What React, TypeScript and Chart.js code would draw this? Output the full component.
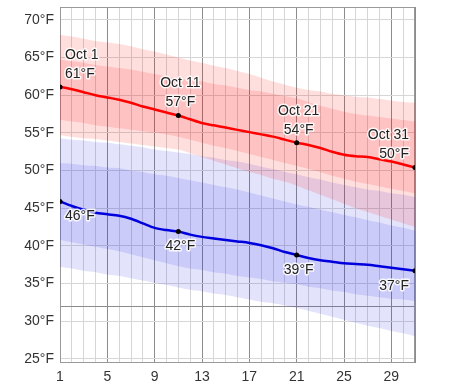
import React, { useEffect, useRef } from 'react';
import { Chart, registerables } from 'chart.js';

Chart.register(...registerables);

// Days of October
const days = [1, 2, 3, 4, 5, 6, 7, 8, 9, 10, 11, 12, 13, 14, 15, 16, 17, 18, 19, 20, 21, 22, 23, 24, 25, 26, 27, 28, 29, 30, 31];
const monthName = 'Oct';

// Average daily high / low (°F)
const highAvg = [61.1, 60.8, 60.4, 60.0, 59.7, 59.4, 59.0, 58.5, 58.1, 57.7, 57.3, 56.8, 56.3, 56.0, 55.7, 55.4, 55.1, 54.8, 54.5, 54.1, 53.7, 53.4, 53.0, 52.5, 52.1, 51.9, 51.8, 51.5, 51.2, 50.8, 50.4];
const lowAvg = [45.9, 45.3, 44.8, 44.4, 44.2, 44.0, 43.6, 43.0, 42.4, 42.1, 41.9, 41.5, 41.2, 41.0, 40.8, 40.6, 40.4, 40.1, 39.7, 39.2, 38.8, 38.4, 38.1, 37.9, 37.7, 37.6, 37.5, 37.3, 37.1, 36.9, 36.7];

// High percentile bands
const high90 = [68.0, 67.8, 67.5, 67.2, 67.0, 66.8, 66.5, 66.1, 65.8, 65.4, 65.0, 64.6, 64.3, 63.9, 63.6, 63.2, 62.8, 62.3, 61.8, 61.4, 61.0, 60.7, 60.5, 60.2, 60.0, 59.8, 59.7, 59.5, 59.3, 59.1, 59.0];
const high75 = [64.7, 64.5, 64.3, 64.0, 63.8, 63.6, 63.4, 63.1, 62.8, 62.5, 62.2, 62.0, 61.8, 61.5, 61.3, 61.0, 60.7, 60.5, 60.2, 59.9, 59.6, 59.1, 58.6, 58.2, 57.8, 57.5, 57.3, 57.1, 56.9, 56.7, 56.5];
const high25 = [56.7, 56.5, 56.3, 56.0, 55.8, 55.6, 55.4, 55.2, 55.0, 54.8, 54.5, 54.1, 53.7, 53.3, 53.0, 52.6, 52.2, 51.8, 51.4, 51.0, 50.6, 50.2, 49.8, 49.3, 48.9, 48.5, 48.2, 47.9, 47.6, 47.3, 47.0];
const high10 = [54.7, 54.5, 54.3, 54.2, 54.0, 53.8, 53.6, 53.4, 53.2, 53.0, 52.8, 52.3, 51.8, 51.3, 50.8, 50.3, 49.8, 49.4, 48.9, 48.5, 48.0, 47.4, 46.8, 46.2, 45.6, 45.0, 44.5, 44.0, 43.5, 43.0, 42.5];

// Low percentile bands
const low90 = [54.3, 54.1, 54.0, 53.8, 53.7, 53.5, 53.3, 53.1, 52.8, 52.6, 52.4, 52.2, 51.9, 51.7, 51.4, 51.2, 50.9, 50.5, 50.2, 49.8, 49.5, 49.1, 48.8, 48.4, 48.1, 47.8, 47.5, 47.3, 47.0, 46.8, 46.5];
const low75 = [51.0, 50.9, 50.7, 50.6, 50.4, 50.3, 50.0, 49.8, 49.5, 49.3, 49.0, 48.7, 48.4, 48.1, 47.8, 47.5, 47.1, 46.7, 46.3, 45.9, 45.5, 45.2, 44.8, 44.5, 44.1, 43.8, 43.4, 43.1, 42.7, 42.4, 42.0];
const low25 = [40.8, 40.5, 40.2, 39.9, 39.6, 39.3, 38.9, 38.5, 38.1, 37.7, 37.3, 37.0, 36.8, 36.5, 36.3, 36.0, 35.8, 35.6, 35.3, 35.1, 34.9, 34.6, 34.4, 34.1, 33.9, 33.6, 33.4, 33.2, 33.0, 32.9, 32.7];
const low10 = [37.2, 37.0, 36.7, 36.5, 36.2, 36.0, 35.7, 35.4, 35.1, 34.8, 34.5, 34.2, 34.0, 33.7, 33.5, 33.2, 32.9, 32.6, 32.4, 32.1, 31.8, 31.4, 31.0, 30.6, 30.2, 29.8, 29.4, 29.1, 28.7, 28.4, 28.0];

// Axis ticks
const xLabelDays = [1, 5, 9, 13, 17, 21, 25, 29];
const yTickValues = [25, 30, 35, 40, 45, 50, 55, 60, 65, 70];
const freezingLine = 32;
const yMin = 24.6;
const yMax = 71.7;

// Annotated days
const labelDays = [1, 11, 21, 31];

const FONT = '"Liberation Sans", Arial, sans-serif';

const toXY = (arr: number[]) => days.map((d, i) => ({ x: d, y: arr[i] }));

const band = (arr: number[], fill: number | false, color: string) => ({
  data: toXY(arr),
  borderWidth: 0,
  pointRadius: 0,
  fill,
  backgroundColor: color,
  borderColor: 'rgba(0,0,0,0)',
  order: 2,
});

const markerRadius = days.map((d) => (labelDays.includes(d) ? 2.5 : 0));

const labelPlugin = {
  id: 'pointLabels',
  afterDatasetsDraw(chart: any) {
    const { ctx, scales } = chart;
    const x = scales.x;
    const y = scales.y;
    ctx.save();
    ctx.font = `14px ${FONT}`;
    ctx.textBaseline = 'middle';
    ctx.lineJoin = 'round';
    const draw = (t: string, px: number, py: number, align: CanvasTextAlign) => {
      ctx.textAlign = align;
      ctx.strokeStyle = 'rgba(255,255,255,0.85)';
      ctx.lineWidth = 3;
      ctx.strokeText(t, px, py);
      ctx.fillStyle = '#222';
      ctx.fillText(t, px, py);
    };
    labelDays.forEach((d, k) => {
      const i = days.indexOf(d);
      const px = x.getPixelForValue(d);
      const hy = y.getPixelForValue(highAvg[i]);
      const ly = y.getPixelForValue(lowAvg[i]);
      const last = k === labelDays.length - 1;
      const align: CanvasTextAlign = k === 0 ? 'left' : last ? 'right' : 'center';
      const dx = k === 0 ? 5 : last ? -6 : 2;
      draw(`${monthName} ${d}`, px + dx, hy - 32, align);
      draw(`${Math.round(highAvg[i])}°F`, px + dx, hy - 13, align);
      draw(`${Math.round(lowAvg[i])}°F`, px + dx, ly + 15, align);
    });
    ctx.restore();
  },
};

const framePlugin = {
  id: 'frame',
  beforeDatasetsDraw(chart: any) {
    const { ctx, chartArea } = chart;
    ctx.save();
    ctx.strokeStyle = '#999';
    ctx.lineWidth = 1;
    ctx.strokeRect(Math.round(chartArea.left) + 0.5, Math.round(chartArea.top) + 0.5, Math.round(chartArea.right - chartArea.left) - 1, Math.round(chartArea.bottom - chartArea.top));
    ctx.restore();
  },
};

export default function App() {
  const ref = useRef<HTMLCanvasElement>(null);
  useEffect(() => {
    const chart = new Chart(ref.current as HTMLCanvasElement, {
      type: 'line',
      data: {
        datasets: [
          band(high90, 3, 'rgba(255,0,0,0.13)'),
          band(high75, 2, 'rgba(255,0,0,0.13)'),
          band(high25, false, 'rgba(0,0,0,0)'),
          band(high10, false, 'rgba(0,0,0,0)'),
          band(low90, 7, 'rgba(40,40,230,0.13)'),
          band(low75, 6, 'rgba(40,40,230,0.13)'),
          band(low25, false, 'rgba(0,0,0,0)'),
          band(low10, false, 'rgba(0,0,0,0)'),
          {
            data: toXY(highAvg),
            borderColor: '#ff0000',
            borderWidth: 2.5,
            pointRadius: markerRadius,
            pointBackgroundColor: '#000',
            pointBorderWidth: 0,
            fill: false,
            tension: 0.3,
            order: 0,
          } as any,
          {
            data: toXY(lowAvg),
            borderColor: '#0000dd',
            borderWidth: 2.5,
            pointRadius: markerRadius,
            pointBackgroundColor: '#000',
            pointBorderWidth: 0,
            fill: false,
            tension: 0.3,
            order: 0,
          } as any,
        ],
      },
      options: {
        animation: false,
        responsive: false,
        layout: { padding: { left: 0, right: 59, top: 7, bottom: 0 } },
        elements: { line: { tension: 0.3 } },
        plugins: { legend: { display: false }, tooltip: { enabled: false } },
        scales: {
          x: {
            type: 'linear',
            min: days[0],
            max: days[days.length - 1],
            afterBuildTicks: (s: any) => {
              s.ticks = days.map((v) => ({ value: v }));
            },
            afterFit: (s: any) => {
              s.height = 27;
            },
            ticks: {
              autoSkip: false,
              maxRotation: 0,
              padding: 7,
              color: '#333',
              font: { family: FONT, size: 14 },
              callback: (v: any) => (xLabelDays.includes(Number(v)) ? String(v) : ''),
            },
            grid: {
              drawTicks: false,
              lineWidth: 1,
              color: (c: any) => {
                const v = c.tick ? c.tick.value : 0;
                return xLabelDays.includes(v) || v === days[days.length - 1] ? '#8c8c8c' : '#d6d6d6';
              },
            },
            border: { color: '#888' },
          },
          y: {
            min: yMin,
            max: yMax,
            afterBuildTicks: (s: any) => {
              s.ticks = [...yTickValues, freezingLine].sort((a, b) => a - b).map((v) => ({ value: v }));
            },
            afterFit: (s: any) => {
              s.width = 60;
              s.paddingTop = 0;
              s.paddingBottom = 0;
            },
            ticks: {
              padding: 6,
              color: '#333',
              font: { family: FONT, size: 14 },
              callback: (v: any) => (Number(v) === freezingLine ? '' : `${v}°F`),
            },
            grid: {
              drawTicks: false,
              lineWidth: 1,
              color: (c: any) => (c.tick && c.tick.value === freezingLine ? '#8c8c8c' : '#d6d6d6'),
            },
            border: { color: '#888' },
          },
        },
      },
      plugins: [framePlugin, labelPlugin],
    } as any);
    return () => chart.destroy();
  }, []);
  return (
    <div style={{ position: 'fixed', left: 0, top: 0, width: 474, height: 389, background: '#fff' }}>
      <canvas ref={ref} width={474} height={389} style={{ width: 474, height: 389 }} />
    </div>
  );
}
